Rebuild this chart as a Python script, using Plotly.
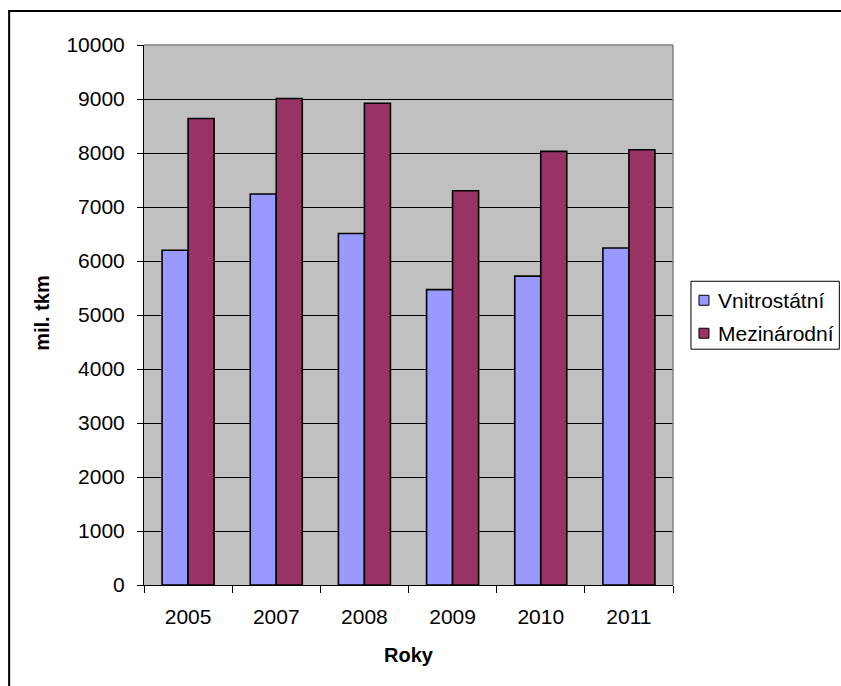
import plotly.graph_objects as go

# Výkony nákladní dopravy (mil. tkm)
roky = ["2005", "2007", "2008", "2009", "2010", "2011"]
vnitrostatni = [6200, 7240, 6510, 5470, 5720, 6240]
mezinarodni = [8640, 9010, 8920, 7300, 8030, 8060]
serie = ["Vnitrostátní", "Mezinárodní"]
barvy = ["#9999FF", "#993366"]

W, H = 841, 686
L, R, T, B = 143.5, 673, 44.5, 585   # plot area edges in pixels
PW, PH = R - L, B - T

def px(x):
    return (x - L) / PW

def py(y):
    return (B - y) / PH

FONT = "Liberation Sans, Arial, sans-serif"

fig = go.Figure()
for nazev, hodnoty, barva in zip(serie, [vnitrostatni, mezinarodni], barvy):
    fig.add_trace(go.Bar(
        x=roky, y=hodnoty, name=nazev,
        marker=dict(color=barva, line=dict(color="#000000", width=1.6)),
    ))

fig.update_layout(
    width=W, height=H,
    margin=dict(l=L, r=W - R, t=T, b=H - B, pad=0, autoexpand=False),
    paper_bgcolor="white",
    plot_bgcolor="#C0C0C0",
    barmode="group",
    bargap=0.41,
    bargroupgap=0,
    font=dict(family=FONT, size=21, color="#000000"),
    showlegend=False,
)

fig.update_xaxes(
    type="category",
    showline=True, linecolor="#000000", linewidth=1,
    ticks="outside", tickson="boundaries", ticklen=7, tickcolor="#000000",
    ticklabelstandoff=13,
    showgrid=False,
)
fig.update_yaxes(
    range=[0, 10000], dtick=1000, tickformat="d",
    showline=True, linecolor="#000000", linewidth=1,
    ticks="outside", ticklen=6, tickcolor="#000000",
    ticklabelstandoff=8,
    showgrid=True, gridcolor="#000000", gridwidth=1,
    zeroline=False,
)

# grey top and right edges of the plot area
fig.add_shape(type="line", xref="paper", yref="paper", x0=0, x1=1, y0=1, y1=1,
              line=dict(color="#808080", width=1.5))
fig.add_shape(type="line", xref="paper", yref="paper", x0=1, x1=1, y0=0, y1=1,
              line=dict(color="#808080", width=1.5))

# outer chart frame (top and left edges; the rest runs past the page)
fig.add_shape(type="line", xref="paper", yref="paper",
              x0=px(7.5), x1=px(W + 10), y0=py(10.5), y1=py(10.5),
              line=dict(color="#000000", width=2))
fig.add_shape(type="line", xref="paper", yref="paper",
              x0=px(8.5), x1=px(8.5), y0=py(9.5), y1=py(H + 10),
              line=dict(color="#000000", width=2))

# legend box with square swatches
fig.add_shape(type="rect", xref="paper", yref="paper",
              x0=px(691), x1=px(839.5), y0=py(349), y1=py(281),
              line=dict(color="#000000", width=1), fillcolor="white")
for i, (nazev, barva) in enumerate(zip(serie, barvy)):
    cy = 300 + i * 33
    fig.add_shape(type="rect", xref="paper", yref="paper",
                  x0=px(699), x1=px(709), y0=py(cy + 5), y1=py(cy - 5),
                  line=dict(color="#000000", width=1), fillcolor=barva)
    fig.add_annotation(text=nazev, xref="paper", yref="paper",
                       x=px(716), y=py(cy), showarrow=False,
                       xanchor="left", yanchor="middle", font=dict(size=21))

# axis titles
fig.add_annotation(text="<b>Roky</b>", xref="paper", yref="paper",
                   x=px((L + R) / 2), y=py(655), showarrow=False,
                   xanchor="center", yanchor="middle", font=dict(size=20))
fig.add_annotation(text="<b>mil. tkm</b>", xref="paper", yref="paper",
                   x=px(42), y=py(313), showarrow=False, textangle=-90,
                   xanchor="center", yanchor="middle", font=dict(size=20))

fig.write_html("out.html")
